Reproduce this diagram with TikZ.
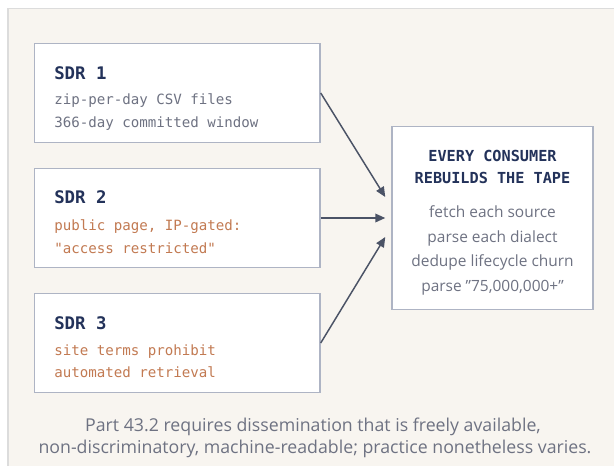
\documentclass[tikz,border=0pt]{standalone}
\usepackage{fontspec}
\setmainfont{Open Sans}
\newfontfamily\monof{DejaVu Sans Mono}
\usetikzlibrary{arrows.meta,calc}
\definecolor{pagebg}{HTML}{F8F5F0}
\definecolor{frameline}{HTML}{DCDCDC}
\definecolor{boxline}{HTML}{AEB4C4}
\definecolor{navy}{HTML}{23325A}
\definecolor{graytxt}{HTML}{6E7282}
\definecolor{orangetxt}{HTML}{C27A52}
\definecolor{arrowcol}{HTML}{4B5366}
\tikzset{
  srcbox/.style={draw=boxline, fill=white, line width=1.1pt, minimum width=214.1pt, minimum height=74.4pt, inner sep=0pt},
  sinkbox/.style={draw=boxline, fill=white, line width=1.1pt, minimum width=150.75pt, minimum height=136.95pt, inner sep=0pt},
  ttl/.style={anchor=base west, inner sep=0pt, text=navy, font=\monof\bfseries\fontsize{13}{15}\selectfont},
  monobody/.style={anchor=base west, inner sep=0pt, text=graytxt, font=\monof\fontsize{10.6}{12}\selectfont},
  warnbody/.style={monobody, text=orangetxt},
  sinkttl/.style={anchor=base, inner sep=0pt, text=navy, font=\monof\bfseries\fontsize{11.4}{13}\selectfont},
  sinkbody/.style={anchor=base, inner sep=0pt, text=graytxt, font=\fontsize{11.6}{13}\selectfont},
  captxt/.style={anchor=base, inner sep=0pt, text=graytxt, font=\fontsize{13.3}{15}\selectfont},
  conn/.style={draw=arrowcol, line width=1.1pt, -{Triangle[length=7.5pt,width=6.5pt]}}
}
\begin{document}
\begin{tikzpicture}[x=0.75pt,y=-0.75pt]
\useasboundingbox (0,0) rectangle (614,465);
\fill[white] (0,0) rectangle (614,465);
\begin{scope}
\clip (0,0) rectangle (614,465);
\draw[draw=frameline, fill=pagebg, line width=1.1pt] (8,8.3) rectangle (660,520);
\end{scope}

% source boxes
\node[srcbox] (s1) at (177.25,93) {};
\node[srcbox] (s2) at (177.25,218) {};
\node[srcbox] (s3) at (177.25,343) {};
\node[sinkbox] (c) at (492.5,218) {};

\node[ttl] (s1t) at (54,79.3) {SDR 1};
\node[monobody] (s1a) at (54,104.3) {zip-per-day CSV files};
\node[monobody] (s1b) at (54,127.7) {366-day committed window};

\node[ttl] (s2t) at (54,203.6) {SDR 2};
\node[warnbody] (s2a) at (54,230) {public page, IP-gated:};
\node[warnbody] (s2b) at (54,253.3) {"access restricted"};

\node[ttl] (s3t) at (54,329.6) {SDR 3};
\node[warnbody] (s3a) at (54,355) {site terms prohibit};
\node[warnbody] (s3b) at (54,377.7) {automated retrieval};

\node[sinkttl] (ct1) at (492.5,161.5) {EVERY CONSUMER};
\node[sinkttl] (ct2) at (492.5,183.8) {REBUILDS THE TAPE};
\node[sinkbody] (cb1) at (492.5,217.5) {fetch each source};
\node[sinkbody] (cb2) at (492.5,242) {parse each dialect};
\node[sinkbody] (cb3) at (492.5,266.5) {dedupe lifecycle churn};
\node[sinkbody] (cb4) at (492.5,291) {parse \symbol{34}75,000,000+\symbol{34}};

\coordinate (e1) at ($(c.west)+(-6,-21)$);
\coordinate (e2) at ($(c.west)+(-6,0)$);
\coordinate (e3) at ($(c.west)+(-6,19)$);
\draw[conn] (s1.east) -- (e1);
\draw[conn] (s2.east) -- (e2);
\draw[conn] (s3.east) -- (e3);

\node[captxt] (cap1) at (313,431) {Part 43.2 requires dissemination that is freely available,};
\node[captxt] (cap2) at (315,453.5) {non-discriminatory, machine-readable; practice nonetheless varies.};
\end{tikzpicture}
\end{document}
